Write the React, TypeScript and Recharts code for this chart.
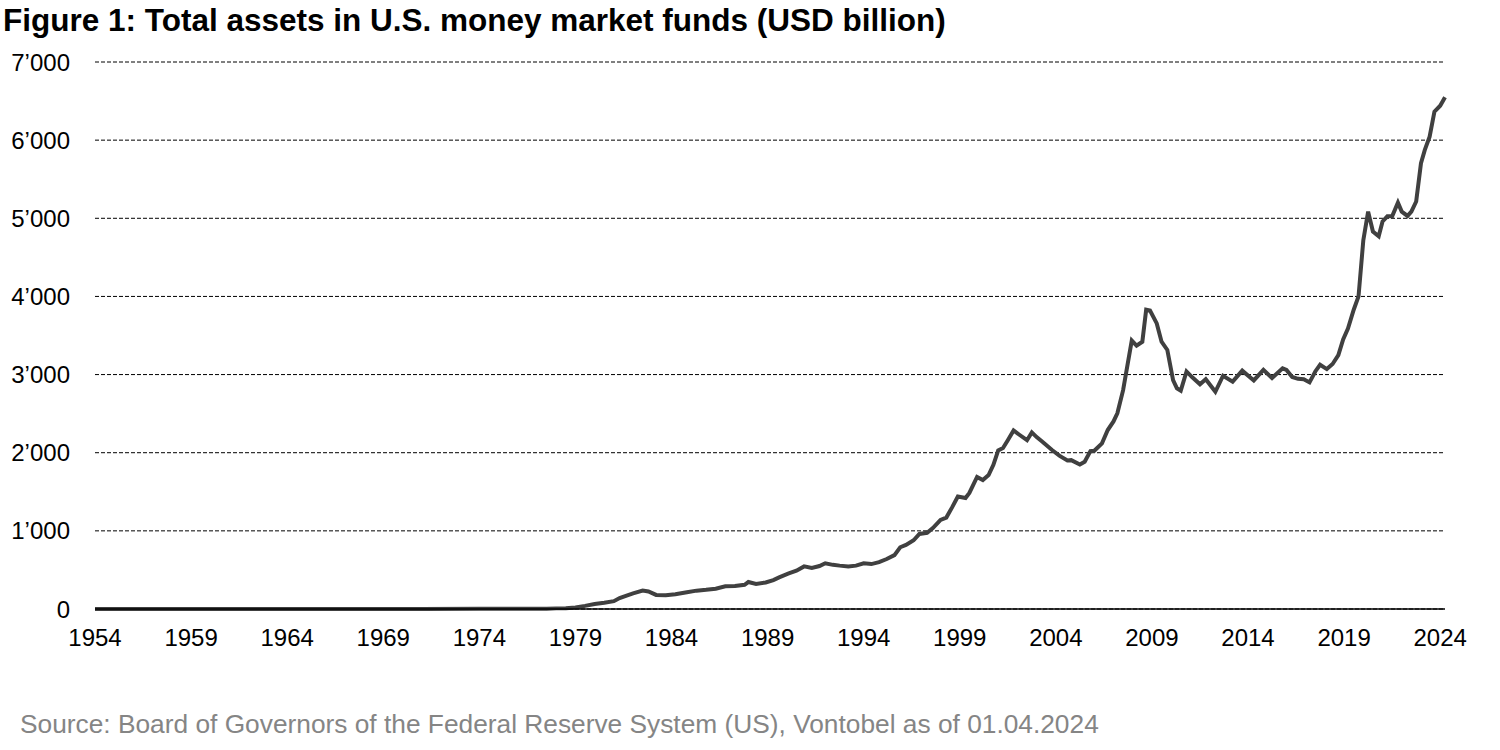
import { CartesianGrid, Line, LineChart, XAxis, YAxis } from "recharts";

const years = [
  1954, 1971, 1974, 1976, 1977.5, 1978, 1978.5, 1979, 1979.5, 1980, 1980.5, 1981, 1981.3, 1981.7,
  1982, 1982.5, 1982.8, 1983.2, 1983.7, 1984.2, 1984.8, 1985.3, 1985.8, 1986.3, 1986.8, 1987.3,
  1987.8, 1988, 1988.4, 1988.9, 1989.3, 1989.6, 1990.1, 1990.5, 1990.9, 1991.3, 1991.7, 1992,
  1992.4, 1992.75, 1993.2, 1993.6, 1994, 1994.4, 1994.8, 1995.2, 1995.6, 1995.9, 1996.2, 1996.6,
  1996.9, 1997.3, 1997.6, 1998, 1998.3, 1998.6, 1998.9, 1999.3, 1999.5, 1999.9, 2000.2, 2000.5,
  2000.75, 2001, 2001.25, 2001.5, 2001.8, 2002.1, 2002.5, 2002.75, 2003, 2003.3, 2003.8, 2004.2,
  2004.6, 2004.8, 2005.25, 2005.5, 2005.8, 2006, 2006.4, 2006.7, 2007, 2007.2, 2007.5, 2007.95,
  2008.2, 2008.5, 2008.7, 2008.9, 2009.25, 2009.5, 2009.8, 2010.1, 2010.3, 2010.5, 2010.8, 2011.1,
  2011.5, 2011.8, 2012.3, 2012.7, 2013.2, 2013.7, 2014.3, 2014.8, 2015.25, 2015.8, 2016, 2016.3,
  2016.6, 2016.9, 2017.2, 2017.5, 2017.75, 2018.1, 2018.4, 2018.7, 2018.95, 2019.2, 2019.5,
  2019.75, 2020, 2020.25, 2020.5, 2020.8, 2021, 2021.25, 2021.5, 2021.8, 2022, 2022.3, 2022.5,
  2022.75, 2023, 2023.2, 2023.45, 2023.7, 2024, 2024.25,
];

// USD billion
const assets = [
  0, 0, 2, 3, 4, 8, 10, 20, 40, 65, 80, 100, 140, 175,
  200, 235, 225, 180, 175, 190, 215, 235, 245, 260, 290, 295,
  310, 345, 320, 340, 370, 405, 455, 490, 545, 525, 550, 585,
  565, 555, 545, 555, 585, 575, 600, 640, 690, 790, 820, 880,
  960, 975, 1035, 1140, 1170, 1300, 1440, 1420, 1485, 1690, 1650, 1715,
  1845, 2030, 2060, 2160, 2285, 2230, 2160, 2260, 2200, 2140, 2035, 1960,
  1900, 1905, 1850, 1885, 2020, 2025, 2120, 2290, 2400, 2505, 2800, 3435,
  3370, 3420, 3830, 3820, 3655, 3420, 3315, 2930, 2825, 2795, 3040, 2965,
  2875, 2940, 2780, 2985, 2910, 3050, 2925, 3060, 2955, 3080, 3060, 2970,
  2945, 2940, 2900, 3040, 3125, 3070, 3135, 3250, 3450, 3590, 3830,
  4000, 4720, 5085, 4830, 4770, 4960, 5025, 5025, 5200, 5085, 5030, 5085,
  5215, 5705, 5875, 6045, 6365, 6440, 6550,
];

const xTicks = [1954, 1959, 1964, 1969, 1974, 1979, 1984, 1989, 1994, 1999, 2004, 2009, 2014, 2019, 2024];
const yTicks = [0, 1000, 2000, 3000, 4000, 5000, 6000, 7000];

const data = years.map((y, i) => ({ year: y, value: assets[i] }));

const font = "'Liberation Sans', Arial, sans-serif";
const fmt = (v: number) => (v >= 1000 ? `${Math.floor(v / 1000)}\u2019${String(v % 1000).padStart(3, "0")}` : String(v));

export default function App() {
  return (
    <div
      style={{
        position: "absolute",
        left: 0,
        top: 0,
        width: 1500,
        height: 750,
        background: "#fff",
        fontFamily: font,
      }}
    >
      <div
        style={{
          position: "absolute",
          left: 3,
          top: 2,
          fontSize: 31.5,
          fontWeight: "bold",
          color: "#000",
          whiteSpace: "nowrap",
        }}
      >
        Figure 1: Total assets in U.S. money market funds (USD billion)
      </div>

      <div style={{ position: "absolute", left: 0, top: 0 }}>
        <LineChart width={1500} height={670} data={data} margin={{ top: 62, right: 55, left: 0, bottom: 0 }}>
          <CartesianGrid stroke="#000" strokeDasharray="4 2" vertical={false} />
          <XAxis
            dataKey="year"
            type="number"
            domain={[1954, 2024.25]}
            ticks={xTicks}
            interval={0}
            height={61}
            tickLine={false}
            tickSize={0}
            tickMargin={20}
            axisLine={{ stroke: "#000", strokeWidth: 1.5 }}
            tick={{ fill: "#000", fontSize: 24, fontFamily: font }}
          />
          <YAxis
            type="number"
            domain={[0, 7000]}
            ticks={yTicks}
            width={95}
            axisLine={false}
            tickLine={false}
            tickSize={0}
            tickMargin={25}
            tickFormatter={fmt}
            tick={{ fill: "#000", fontSize: 24, fontFamily: font }}
          />
          <Line
            type="linear"
            dataKey="value"
            stroke="#404040"
            strokeWidth={4}
            dot={false}
            isAnimationActive={false}
          />
        </LineChart>
      </div>

      <div
        style={{
          position: "absolute",
          left: 20,
          top: 709,
          fontSize: 26.3,
          color: "#858585",
          whiteSpace: "nowrap",
        }}
      >
        Source: Board of Governors of the Federal Reserve System (US), Vontobel as of 01.04.2024
      </div>
    </div>
  );
}
